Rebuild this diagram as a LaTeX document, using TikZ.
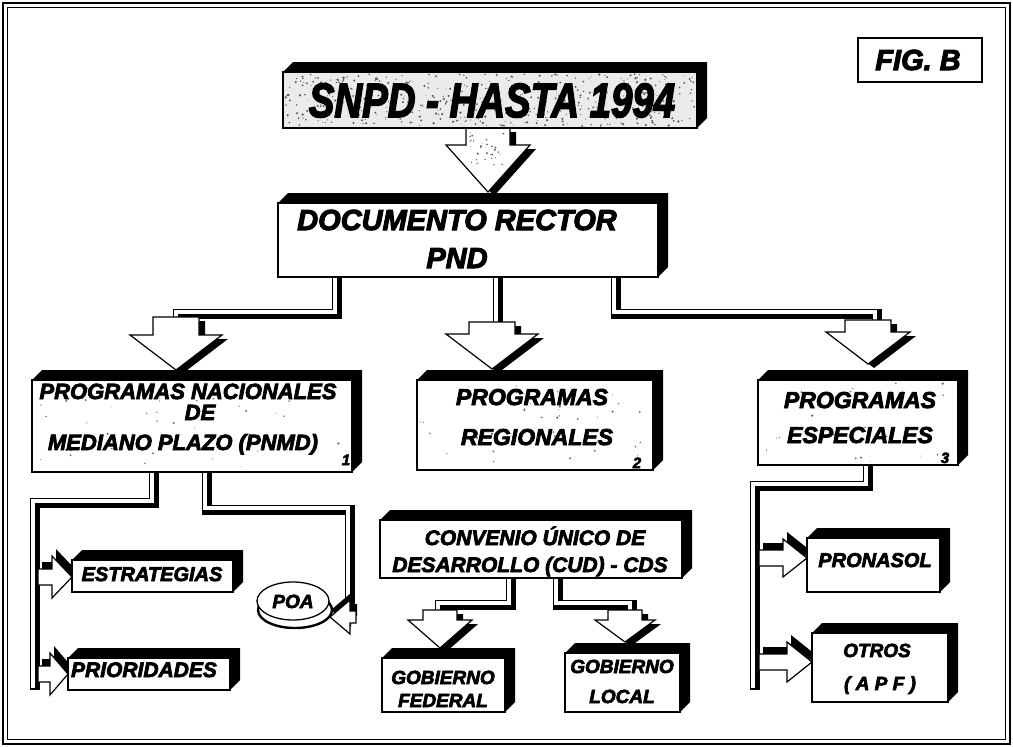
\documentclass[tikz,border=0pt]{standalone}
\usepackage{fontspec}
\setmainfont{Liberation Sans}[BoldItalicFeatures={FakeBold=3.5}]
\usepackage{graphicx}
\usetikzlibrary{shapes.geometric}

\pgfdeclarelayer{bg}
\pgfdeclarelayer{back}
\pgfsetlayers{bg,back,main}

\tikzset{
  box/.style={draw=black, fill=white, line width=1.3, inner sep=0, outer sep=0},
  lbl/.style={anchor=base, inner sep=0, font=\bfseries\itshape\fontsize{#1}{#1}\selectfont},
  pipeouter/.style={line width=10, draw=black, line join=miter},
  pipeinner/.style={line width=3.6, draw=white, line join=miter},
  arrowbody/.style={fill=white, draw=black, line width=1.2, line join=miter},
}

% black top and right faces of a box node (#1), depth #2
\newcommand\slab[2]{%
  \fill[black] (#1.north west) -- ++(#2,-#2) -- ([shift={(#2,-#2)}]#1.north east)
    -- ([shift={(#2,-#2)}]#1.south east) -- (#1.south east) -- (#1.north east) -- cycle;}

% piped connector: black channel with a white groove
\newcommand\pipe[1]{%
  \draw[pipeouter] #1;
  \draw[pipeinner, transform canvas={shift={(-1.9,-1.9)}}] #1;}

% downward block arrow: cx, shaft top, head top, tip, shaft half width, head half width
\newcommand\darrowshape[6]{(#1-#5,#2) -- (#1+#5,#2) -- (#1+#5,#3) -- (#1+#6,#3) -- (#1,#4) -- (#1-#6,#3) -- (#1-#5,#3) -- cycle}
\newcommand\darrow[6]{%
  \begin{scope}[shift={(6,4)}]\fill[black] \darrowshape{#1}{#2}{#3}{#4}{#5}{#6};\end{scope}
  \filldraw[arrowbody] \darrowshape{#1}{#2}{#3}{#4}{#5}{#6};}

% horizontal block arrow: cy, shaft start, head base, tip, shaft half, head half, shadow dx, dy
\newcommand\harrowshape[6]{(#2,#1-#5) -- (#3,#1-#5) -- (#3,#1-#6) -- (#4,#1) -- (#3,#1+#6) -- (#3,#1+#5) -- (#2,#1+#5) -- cycle}
\newcommand\harrow[8]{%
  \begin{scope}[shift={(#7,#8)}]\fill[black] \harrowshape{#1}{#2}{#3}{#4}{#5}{#6};\end{scope}
  \filldraw[arrowbody] \harrowshape{#1}{#2}{#3}{#4}{#5}{#6};}

% random stipple inside a rectangle
\newcommand\specks[6]{%
  \foreach \i in {1,...,#5}{%
    \pgfmathsetmacro\spx{#1+rnd*(#3-#1)}%
    \pgfmathsetmacro\spy{#2+rnd*(#4-#2)}%
    \pgfmathsetmacro\spr{0.35+rnd*0.9}%
    \fill[#6] (\spx,\spy) circle (\spr);}}

\begin{document}
\begin{tikzpicture}[x=1pt,y=-1pt]
\pgfmathsetseed{4}
\useasboundingbox (0,0) rectangle (1013,747);

% ---------- boxes ----------
\node[box, minimum width=414, minimum height=56, fill=black!8] (snpd) at (490,100) {};
\specks{285}{74}{695}{126}{520}{black!65}
\slab{snpd}{10}
\node[anchor=base, inner sep=0, font=\bfseries\itshape\fontsize{48}{48}\selectfont] (snpdt) at (492,117) {\scalebox{0.8}[1]{SNPD - HASTA 1994}};

\node[box, minimum width=124, minimum height=44, line width=1.8] (fig) at (920,60) {};
\node[lbl=29] (figt) at (918,70) {FIG. B};

\node[box, minimum width=380, minimum height=74] (doc) at (468,240) {};
\slab{doc}{10}
\node[lbl=29] (doct1) at (457,230) {DOCUMENTO RECTOR};
\node[lbl=29] (doct2) at (457,268) {PND};

\node[box, minimum width=320, minimum height=92] (pnmd) at (192,426) {};
\specks{40}{385}{345}{468}{40}{black!60}
\slab{pnmd}{10}
\node[lbl=22] (pnmdt1) at (188,399) {PROGRAMAS NACIONALES};
\node[lbl=22] (pnmdt2) at (200,420) {DE};
\node[lbl=22] (pnmdt3) at (183,450) {MEDIANO PLAZO (PNMD)};
\node[lbl=15] (pnmdn) at (346,465) {1};

\node[box, minimum width=236, minimum height=90] (reg) at (535,425) {};
\specks{420}{383}{650}{467}{45}{black!60}
\slab{reg}{10}
\node[lbl=23] (regt1) at (532,405) {PROGRAMAS};
\node[lbl=23] (regt2) at (537,445) {REGIONALES};
\node[lbl=15] (regn) at (637,468) {2};

\node[box, minimum width=200, minimum height=85] (esp) at (858,422.5) {};
\specks{762}{383}{955}{462}{20}{black!60}
\slab{esp}{10}
\node[lbl=23] (espt1) at (860,408) {PROGRAMAS};
\node[lbl=23] (espt2) at (860,443) {ESPECIALES};
\node[lbl=15] (espn) at (945,463) {3};

\node[box, minimum width=161, minimum height=32] (estr) at (152.5,576) {};
\slab{estr}{10}
\node[lbl=20] (estrt) at (152,581) {ESTRATEGIAS};

\node[box, minimum width=162, minimum height=32] (prio) at (149,674) {};
\slab{prio}{10}
\node[lbl=21] (priot) at (144,677) {PRIORIDADES};

\draw[line width=2.4, fill=white] (295,610) ellipse [x radius=37, y radius=18];
\node[draw, ellipse, fill=white, line width=1.3, minimum width=72, minimum height=38, inner sep=0] (poa) at (293,601) {};
\node[lbl=19] (poat) at (293,608) {POA};

\node[box, minimum width=302, minimum height=58] (conv) at (531,549) {};
\slab{conv}{10}
\node[lbl=21] (convt1) at (535,545) {CONVENIO ÚNICO DE};
\node[lbl=21] (convt2) at (530,572) {DESARROLLO (CUD) - CDS};

\node[box, minimum width=123, minimum height=54] (fed) at (443.5,685) {};
\slab{fed}{10}
\node[lbl=19] (fedt1) at (443,684) {GOBIERNO};
\node[lbl=19] (fedt2) at (443,707) {FEDERAL};

\node[box, minimum width=115, minimum height=59] (loc) at (622.5,682.5) {};
\slab{loc}{10}
\node[lbl=19] (loct1) at (622,673) {GOBIERNO};
\node[lbl=19] (loct2) at (622,703) {LOCAL};

\node[box, minimum width=133, minimum height=54] (pron) at (873.5,565) {};
\slab{pron}{10}
\node[lbl=20] (pront) at (875,567) {PRONASOL};

\node[box, minimum width=136, minimum height=69] (otros) at (880,667.5) {};
\slab{otros}{10}
\node[lbl=19] (otrost1) at (877,657) {OTROS};
\node[lbl=19] (otrost2) at (880,690) {( A P F )};

% ---------- frame ----------
\begin{pgfonlayer}{bg}
  \fill[white] (0,0) rectangle (1013,747);
  \draw[line width=1.6] (3,3) rectangle (1010,744);
  \draw[line width=0.7] (7.5,7.5) rectangle (1005.5,739.5);
\end{pgfonlayer}

% ---------- connectors and block arrows ----------
\begin{pgfonlayer}{back}
  \pipe{(doc.south -| 337,0) |- (178,314) -- (178,324)}
  \pipe{(doc.south -| 498,0) -- (498,326)}
  \pipe{(doc.south -| 616,0) |- (877,314) -- (877,324)}
  \pipe{(pnmd.south -| 154,0) |- (35,503) -- (35,690)}
  \pipe{(pnmd.south -| 207,0) |- (350,510) -- (350,604)}
  \pipe{(conv.south -| 511,0) |- (440,605) -- (440,614)}
  \pipe{(conv.south -| 558,0) |- (632,605) -- (632,614)}
  \pipe{(esp.south -| 868,0) |- (755,486) -- (755,690)}

  \darrow{488}{128}{145}{192}{22}{42}
  \specks{470}{132}{505}{165}{30}{black!60}
  \darrow{176}{317}{335}{370}{23}{46}
  \darrow{492}{322}{334}{369}{23}{46}
  \darrow{868}{320}{332}{364}{23}{42}
  \darrow{440}{610}{620}{648}{17}{32}
  \darrow{625}{610}{620}{642}{17}{30}

  \harrow{577}{38}{52}{72}{8}{21}{4}{-7}
  \harrow{674}{38}{50}{68}{8}{21}{4}{-7}
  \harrow{558}{759}{783}{807}{8}{19}{4}{-7}
  \harrow{662}{759}{787}{812}{8}{20}{4}{-7}
  \harrow{617}{356}{350}{330}{6}{17}{1}{-7}
\end{pgfonlayer}
\end{tikzpicture}
\end{document}
